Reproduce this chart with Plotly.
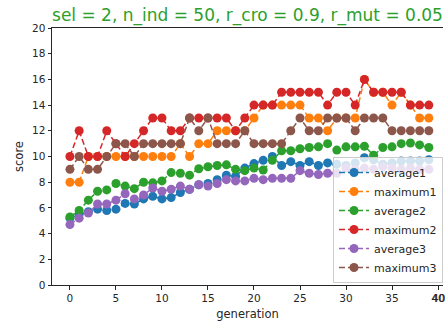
import plotly.graph_objects as go

generation = list(range(40))

average1 = [5.2, 5.5, 5.7, 5.9, 5.8, 5.9, 6.35, 6.3, 6.7, 6.9,
            6.7, 6.8, 7.2, 7.45, 7.8, 7.9, 8.2, 8.55, 8.45, 9.1,
            9.45, 9.7, 10.0, 9.3, 9.6, 9.3, 9.6, 9.3, 9.5, 9.4,
            9.3, 9.5, 9.9, 9.75, 9.4, 9.5, 9.65, 9.65, 9.65, 9.75]
maximum1 = [8, 8, 10, 10, 10, 10, 10, 10, 10, 10,
            10, 10, 11, 10, 11, 11, 12, 12, 12, 12,
            13, 14, 14, 14, 14, 14, 13, 13, 12, 13,
            13, 13, 16, 15, 15, 14, 15, 14, 13, 13]
average2 = [5.3, 5.8, 6.6, 7.3, 7.4, 7.9, 7.7, 7.5, 8.0, 7.95,
            8.1, 8.75, 8.7, 8.55, 9.05, 9.2, 9.3, 9.35, 9.0, 8.9,
            9.1, 8.95, 9.7, 10.45, 10.45, 10.6, 10.7, 10.75, 11.0, 10.5,
            10.75, 10.75, 10.8, 10.1, 10.7, 10.75, 11.0, 11.05, 10.9, 10.7]
maximum2 = [10, 12, 10, 10, 12, 11, 10, 11, 12, 13,
            13, 12, 12, 13, 13, 13, 13, 13, 12, 13,
            14, 14, 14, 15, 15, 15, 15, 15, 14, 15,
            15, 14, 16, 15, 15, 15, 15, 14, 14, 14]
average3 = [4.7, 5.2, 5.6, 6.3, 6.3, 6.6, 7.1, 6.7, 7.0, 7.55,
            7.3, 7.45, 7.7, 7.45, 7.8, 7.7, 7.9, 8.2, 8.1, 8.1,
            8.3, 8.2, 8.3, 8.3, 8.3, 8.9, 8.7, 8.6, 8.7, 8.7,
            9.1, 9.0, 9.1, 9.0, 9.2, 9.1, 9.0, 9.1, 9.0, 9.0]
maximum3 = [9, 10, 9, 9, 10, 11, 11, 10, 11, 11,
            11, 11, 11, 13, 12, 13, 11, 11, 11, 12,
            11, 11, 11, 11, 12, 13, 12, 12, 13, 13,
            13, 12, 13, 13, 13, 12, 12, 12, 12, 12]

series = [
    ("average1", average1, "#1f77b4"),
    ("maximum1", maximum1, "#ff7f0e"),
    ("average2", average2, "#2ca02c"),
    ("maximum2", maximum2, "#d62728"),
    ("average3", average3, "#9467bd"),
    ("maximum3", maximum3, "#8c564b"),
]

title_text = "sel = 2, n_ind = 50, r_cro = 0.9, r_mut = 0.05"
x_ticks = [0, 5, 10, 15, 20, 25, 30, 35, 40]
y_ticks = [0, 2, 4, 6, 8, 10, 12, 14, 16, 18, 20]

fig = go.Figure()
for name, vals, color in series:
    fig.add_trace(go.Scatter(
        x=generation, y=vals, name=name, mode="lines+markers",
        line=dict(color=color, width=1.5, dash="6px,3px"),
        marker=dict(color=color, size=9, symbol="circle"),
    ))

font_family = "DejaVu Sans"
tick_color = "#262626"
tick_size = 10.5
fig.update_layout(
    width=445, height=327,
    margin=dict(l=52, r=0, t=28, b=42),
    paper_bgcolor="white", plot_bgcolor="white",
    font=dict(family=font_family, size=tick_size, color=tick_color),
    title=dict(text=title_text, font=dict(family=font_family, size=17, color="#2ca02c"),
               x=0.5, xref="paper", xanchor="center",
               y=1 - 15 / 327, yref="container", yanchor="middle"),
    showlegend=True,
    legend=dict(x=1, xanchor="right", y=0.008, yanchor="bottom",
                bgcolor="rgba(255,255,255,0.8)", bordercolor="#cccccc", borderwidth=1,
                font=dict(family=font_family, size=11, color=tick_color),
                tracegroupgap=0),
)
fig.update_xaxes(
    range=[-1.95, 40.54], tickvals=x_ticks, ticks="outside", ticklen=3.5, tickwidth=1,
    tickcolor=tick_color, showline=True, linecolor=tick_color, linewidth=1, mirror=True,
    showgrid=False, zeroline=False, ticklabeloverflow="allow",
    title=dict(text="generation", font=dict(family=font_family, size=11.5), standoff=6),
)
fig.update_yaxes(
    range=[0, 20], tickvals=y_ticks, ticks="outside", ticklen=3.5, tickwidth=1,
    tickcolor=tick_color, showline=True, linecolor=tick_color, linewidth=1, mirror=False,
    showgrid=False, zeroline=False,
    title=dict(text="score", font=dict(family=font_family, size=11.5), standoff=6),
)

# the last x tick label sits at the page edge, where plotly hides it; draw it as text
last_tick = x_ticks[-1]
fig.add_annotation(x=last_tick, xref="x", y=0, yref="paper", yanchor="top",
                   yshift=-5, text=str(last_tick), showarrow=False,
                   font=dict(family=font_family, size=tick_size, color=tick_color))

fig.write_html("out.html")
